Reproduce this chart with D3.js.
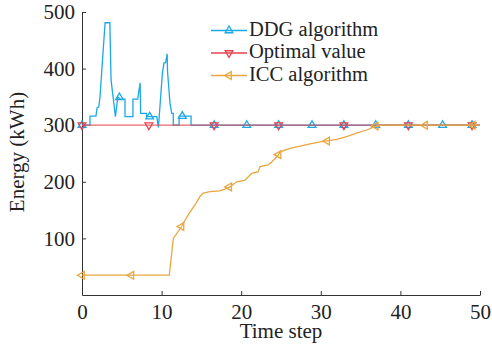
<!DOCTYPE html>
<html>
<head>
<meta charset="utf-8">
<script src="https://cdn.jsdelivr.net/npm/d3@7"></script>
<style>
  body { margin: 0; background: #fff; }
  svg { display: block; }
  text { font-family: "Liberation Serif", "DejaVu Serif", serif; }
</style>
</head>
<body>
<svg id="chart" width="492" height="351"></svg>
<script>
// time step / energy (kWh)
const ddgLine = [
  [0, 300], [1.0, 300], [1.0, 316], [1.75, 316], [1.9, 331], [2.1, 332], [2.25, 348],
  [2.9, 481], [3.5, 481], [3.65, 380], [4.2, 315], [4.5, 350], [4.8, 346], [5.4, 346],
  [5.4, 315], [6.4, 315], [6.4, 346], [7.0, 346], [7.3, 375], [7.37, 321], [8.1, 321],
  [8.1, 315], [9.4, 315], [9.6, 296], [10.1, 392], [10.3, 410], [10.5, 410], [10.7, 426],
  [10.75, 394], [11.05, 339], [11.27, 321], [11.47, 321], [11.47, 300], [12.2, 300],
  [12.2, 316], [13.7, 316], [13.7, 300], [50, 300]
];
const ddgMarkers = [
  [0, 300], [4.7, 349], [8.5, 315], [12.6, 316], [16.6, 300], [20.7, 300], [24.7, 300],
  [28.9, 300], [32.9, 300], [36.9, 300], [41.0, 300], [45.3, 300], [49.0, 300]
];

const optLine = [[0, 300], [50, 300]];
const optMarkers = [[0, 300], [8.4, 300], [16.6, 300], [24.7, 300], [32.9, 300], [41.0, 300], [49.0, 300]];

const iccLine = [
  [0, 35], [10.97, 35], [11.47, 100], [12.52, 121], [12.94, 132], [13.57, 147], [14.2, 159],
  [14.82, 174], [15.24, 180], [16.08, 182.5], [17.34, 184], [17.96, 187], [18.59, 191],
  [19.43, 200], [20.48, 203], [20.9, 209], [21.32, 215], [22.15, 218], [22.36, 227],
  [23.4, 230], [23.83, 235], [24.66, 247], [24.87, 253], [26.13, 259], [27.39, 263],
  [28.64, 267], [30.11, 271], [32.0, 275], [33.25, 280], [34.5, 286], [35.77, 291.5],
  [36.93, 298.5], [37.85, 300], [50, 300]
];
const iccMarkers = [
  [0, 35], [6.2, 35], [12.5, 121], [18.5, 191], [24.7, 248], [30.8, 272], [36.9, 298.5],
  [43.1, 300], [49.1, 300]
];

const xTicks = [0, 10, 20, 30, 40, 50];
const yTicks = [100, 200, 300, 400, 500];
const seriesNames = ["DDG algorithm", "Optimal value", "ICC algorithm"];
const seriesColors = ["#1aa9e6", "#e5424f", "#e8a63e"];
const markerRotate = [0, 180, -90];
const serif = "'Liberation Serif', 'DejaVu Serif', serif";

function init() {
  const svg = d3.select("#chart");
  const x = d3.scaleLinear().domain([0, 50]).range([82, 480]);
  const y = d3.scaleLinear().domain([0, 500]).range([295, 12]);

  // axes, ticks pointing inward
  const xAxis = svg.append("g")
    .attr("transform", "translate(0,295)")
    .call(d3.axisBottom(x).tickValues(xTicks).tickSizeInner(-4).tickSizeOuter(0).tickPadding(9));
  const yAxis = svg.append("g")
    .attr("transform", "translate(82,0)")
    .call(d3.axisLeft(y).tickValues(yTicks).tickSizeInner(-4).tickSizeOuter(0).tickPadding(7));
  [xAxis, yAxis].forEach(a => {
    a.attr("font-family", serif).attr("font-size", 21);
    a.selectAll("text").attr("fill", "#222");
    a.selectAll("line, path").attr("stroke", "#333");
  });

  svg.append("text")
    .attr("x", 281).attr("y", 338)
    .attr("text-anchor", "middle")
    .attr("font-size", 21).attr("fill", "#222")
    .text("Time step");
  svg.append("text")
    .attr("transform", "translate(24,152) rotate(-90)")
    .attr("text-anchor", "middle")
    .attr("font-size", 21).attr("fill", "#222")
    .text("Energy (kWh)");

  const line = d3.line().x(d => x(d[0])).y(d => y(d[1]));
  const tri = d3.symbol(d3.symbolTriangle, 26);

  const lines = [ddgLine, optLine, iccLine];
  const markers = [ddgMarkers, optMarkers, iccMarkers];

  lines.forEach((data, i) => {
    svg.append("path")
      .datum(data)
      .attr("d", line)
      .attr("fill", "none")
      .attr("stroke", seriesColors[i])
      .attr("stroke-width", 1.3)
      .attr("stroke-opacity", i === 1 ? 0.8 : 1);
    svg.selectAll(".m" + i)
      .data(markers[i])
      .join("path")
      .attr("class", "m" + i)
      .attr("d", tri)
      .attr("transform", d => "translate(" + x(d[0]) + "," + y(d[1]) + ") rotate(" + markerRotate[i] + ")")
      .attr("fill", "none")
      .attr("stroke", seriesColors[i])
      .attr("stroke-width", 1.3);
  });

  // legend
  const leg = svg.append("g");
  seriesNames.forEach((name, i) => {
    const ly = 30.5 + i * 22.5;
    leg.append("line")
      .attr("x1", 211).attr("x2", 247)
      .attr("y1", ly).attr("y2", ly)
      .attr("stroke", seriesColors[i]).attr("stroke-width", 1.3);
    leg.append("path")
      .attr("d", tri)
      .attr("transform", "translate(229," + ly + ") rotate(" + markerRotate[i] + ")")
      .attr("fill", "none")
      .attr("stroke", seriesColors[i]).attr("stroke-width", 1.3);
    leg.append("text")
      .attr("x", 249).attr("y", ly + 5)
      .attr("font-size", 20.5).attr("fill", "#222")
      .text(name);
  });
}

window.onload = init;
</script>
</body>
</html>
